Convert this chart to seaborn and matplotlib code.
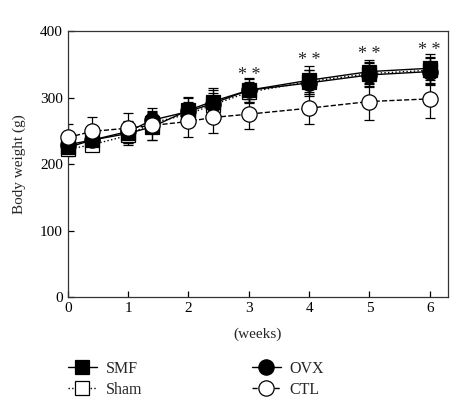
import numpy as np
import pandas as pd
import matplotlib
matplotlib.use("Agg")
import matplotlib.pyplot as plt
import seaborn as sns
from matplotlib.lines import Line2D

# 読み取り値
weeks = [0, 0.4, 1, 1.4, 2, 2.4, 3, 4, 5, 6]
smf = [225, 236, 246, 256, 281, 294, 311, 326, 339, 344]
sham = [222, 229, 243, 262, 275, 289, 308, 324, 336, 341]
ovx = [229, 236, 249, 266, 279, 291, 311, 322, 334, 339]
ctl = [240, 249, 254, 258, 264, 270, 275, 284, 294, 298]
smf_err = [12, 12, 18, 20, 20, 20, 18, 21, 18, 22]
sham_err = [10, 10, 12, 16, 18, 18, 16, 18, 18, 20]
ovx_err = [12, 12, 14, 18, 20, 20, 17, 20, 18, 20]
ctl_err = [20, 22, 22, 22, 24, 24, 23, 24, 28, 29]
star_weeks = [3, 4, 5, 6]
star_y = [333, 355, 364, 371]

sns.set_style("ticks")
plt.rcParams["font.family"] = ["Liberation Serif", "DejaVu Serif"]

fig = plt.figure(figsize=(4.65, 4.03), dpi=100)
ax = fig.add_axes([0.146, 0.263, 0.817, 0.66])

# name: (値, 誤差, マーカー, 塗り, 線種, zorder)
groups = {
    "Sham": (sham, sham_err, "s", "white", ":", 3),
    "OVX": (ovx, ovx_err, "o", "black", "-", 4),
    "SMF": (smf, smf_err, "s", "black", "-", 5),
    "CTL": (ctl, ctl_err, "o", "white", "--", 6),
}

handles = {}
for name, (vals, errs, mk, fc, ls, z) in groups.items():
    df = pd.DataFrame({"week": weeks, "bw": vals})
    ms = 10 if mk == "s" else 11
    ax.errorbar(weeks, vals, yerr=errs, fmt="none", ecolor="black",
                elinewidth=0.9, capsize=3.5, capthick=0.9, zorder=2)
    sns.lineplot(data=df, x="week", y="bw", ax=ax, color="black",
                 linestyle=ls, linewidth=1.0, marker=mk, markersize=ms,
                 markerfacecolor=fc, markeredgecolor="black",
                 markeredgewidth=0.9, zorder=z, clip_on=False)
    handles[name] = Line2D([], [], color="black", linestyle=ls, linewidth=1.0,
                           marker=mk, markersize=ms, markerfacecolor=fc,
                           markeredgecolor="black", markeredgewidth=0.9)

for x, y in zip(star_weeks, star_y):
    ax.text(x, y, "* *", ha="center", va="center", fontsize=13)

ax.set_xlim(0, 6.3)
ax.set_ylim(0, 400)
ax.set_xticks(range(0, 7))
ax.set_yticks(range(0, 401, 100))
ax.tick_params(direction="in", length=4, width=0.9, labelsize=11, colors="black")
for sp in ax.spines.values():
    sp.set_linewidth(0.9)
    sp.set_color("#333333")
ax.set_xlabel("(weeks)", fontsize=11, labelpad=9)
ax.set_ylabel("Body weight (g)", fontsize=11, labelpad=10)

order = ["SMF", "Sham", "OVX", "CTL"]
fig.legend([handles[k] for k in order], order, loc="upper left",
           bbox_to_anchor=(0.115, 0.14), ncol=2, frameon=False, fontsize=11.5,
           handlelength=1.8, columnspacing=6.9, handletextpad=0.55,
           labelspacing=0.3)

fig.savefig("out.png", dpi=100)
